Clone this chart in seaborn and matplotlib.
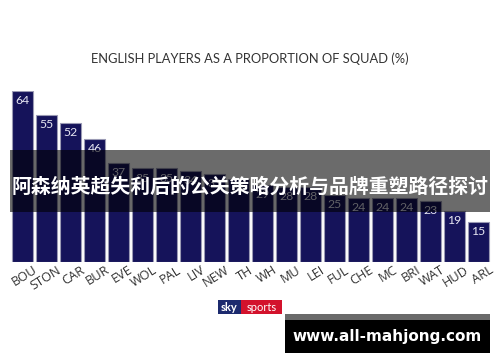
import matplotlib
matplotlib.use("Agg")
import matplotlib.pyplot as plt
import matplotlib.transforms as mtransforms
from matplotlib.patches import Rectangle
import seaborn as sns
import pandas as pd

clubs = ["BOU", "STON", "CAR", "BUR", "EVE", "WOL", "PAL", "LIV", "NEW", "TH",
         "WH", "MU", "LEI", "FUL", "CHE", "MC", "BRI", "WAT", "HUD", "ARL"]
values = [64, 55, 52, 46, 37, 35, 35, 34, 33, 31,
          29, 28, 28, 25, 24, 24, 24, 23, 19, 15]
title = "ENGLISH PLAYERS AS A PROPORTION OF SQUAD (%)"
banner_text = "阿森纳英超失利后的公关策略分析与品牌重塑路径探讨"
site_text = "www.all-mahjong.com"

sns.set_theme(style="white")
plt.rcParams['font.family'] = ['Lato', 'DejaVu Sans']

W, H = 500, 362
fig = plt.figure(figsize=(5, 3.62), dpi=100)
fig.patch.set_facecolor("white")

base_y = 262
top_y = 91
ax = fig.add_axes([10.5 / W, (H - base_y) / H, 480 / W, (base_y - top_y) / H])
df = pd.DataFrame({"club": clubs, "value": values})
sns.barplot(data=df, x="club", y="value", color="#15135a", saturation=1,
            width=0.9, edgecolor="#9a9ab4", linewidth=0.8, ax=ax)
ax.set_xlim(-0.5, len(clubs) - 0.5)
ax.set_ylim(0, max(values))
ax.set_xlabel("")
ax.set_ylabel("")
ax.set_yticks([])
for s in ax.spines.values():
    s.set_visible(False)
ax.tick_params(axis="x", length=0, pad=1)
ax.set_xticks(range(len(clubs)))
ax.set_xticklabels(clubs, rotation=32, ha="right", va="top",
                   rotation_mode="anchor", fontsize=9.2, color="#333333",
                   family="Open Sans")
offset = mtransforms.ScaledTranslation(10 / 100, 0, fig.dpi_scale_trans)
for lbl in ax.get_xticklabels():
    lbl.set_transform(lbl.get_transform() + offset)

for i, v in enumerate(values):
    ax.annotate(str(v), xy=(i, v), xytext=(0, -3), textcoords="offset points",
                ha="center", va="top", color="#e6e6f2", fontsize=8.8)

fig.text(250 / W, 1 - 59 / H, title, ha="center", va="center",
         fontsize=9.3, color="#333333", family="Lato")

# banner overlay
fig.patches.append(Rectangle((10 / W, 1 - 212 / H), 480 / W, 62 / H,
                             transform=fig.transFigure, facecolor="black",
                             alpha=0.58, edgecolor="none", zorder=5))
fig.text(250 / W, 1 - 186 / H, banner_text, ha="center", va="center",
         fontsize=14.3, color="white", fontweight="bold",
         family=["Noto Sans CJK SC", "DejaVu Sans"], zorder=6)

# sky sports logo
fig.patches.append(Rectangle((218 / W, 1 - 314 / H), 23 / W, 14 / H,
                             transform=fig.transFigure, facecolor="#1c2a6e",
                             edgecolor="none", zorder=5))
fig.patches.append(Rectangle((241 / W, 1 - 314 / H), 41 / W, 14 / H,
                             transform=fig.transFigure, facecolor="#d3122c",
                             edgecolor="none", zorder=5))
fig.text(229.5 / W, 1 - 307.5 / H, "sky", ha="center", va="center",
         fontsize=8, color="white", fontweight="bold", zorder=6)
fig.text(261.5 / W, 1 - 307.5 / H, "sports", ha="center", va="center",
         fontsize=8, color="white", zorder=6)

# site box
fig.patches.append(Rectangle((285 / W, 1 - 353 / H), 205 / W, 39 / H,
                             transform=fig.transFigure, facecolor="black",
                             edgecolor="none", zorder=5))
fig.patches.append(Rectangle((285 / W, 1 - 320 / H), 205 / W, 6 / H,
                             transform=fig.transFigure, facecolor="#6a6a6a",
                             edgecolor="none", zorder=6))
fig.text(387 / W, 1 - 337 / H, site_text, ha="center", va="center",
         fontsize=11, color="white", fontweight="bold",
         family="DejaVu Sans", zorder=7)

fig.savefig("out.png", dpi=100)
